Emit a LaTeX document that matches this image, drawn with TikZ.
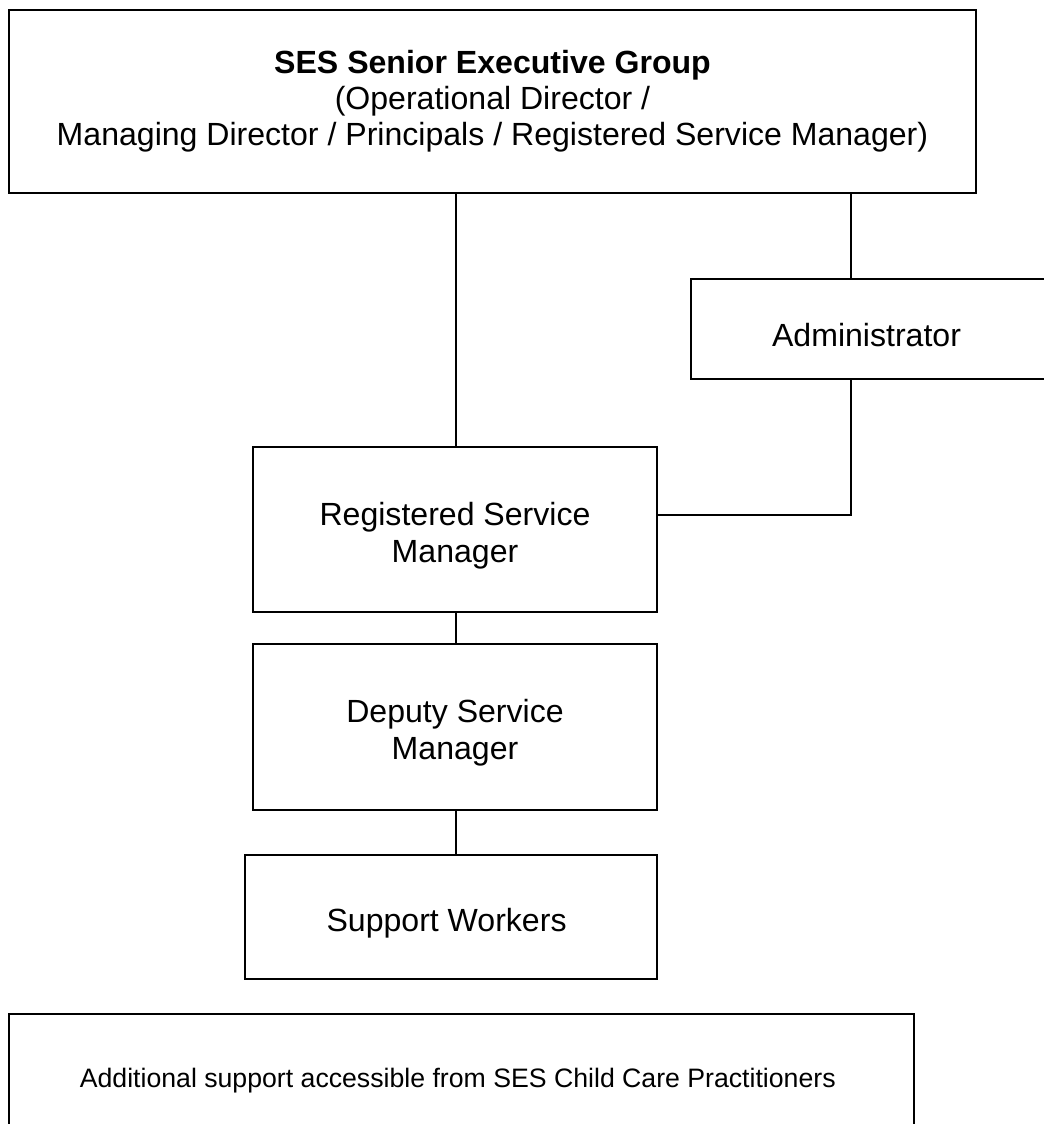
\documentclass[tikz,border=0pt]{standalone}
\usepackage{fontspec}
\setmainfont{Liberation Sans}
\usetikzlibrary{positioning,calc}
\tikzstyle{block} = [rectangle, draw, line width=1.3pt, fill=white,
  align=center, inner sep=0pt, font=\fontsize{24.05}{27}\selectfont]
\tikzstyle{line} = [draw, line width=1.3pt, color=black]
\tikzset{
  text drop/.style={execute at begin node={\rule{0pt}{#1}}}, % pushes text a bit down
}
\newcommand{\dropstrut}{\rule{0pt}{26.5pt}}

\begin{document}
\begin{tikzpicture}[x=0.75pt, y=-0.75pt]

  \useasboundingbox (0,0) rectangle (1043,1124);

  %%%%%%%%%%%%%%%%%%%%%%%%%%%%%%%%%%%%%%%%%%%%%%%%%%%%%%%%%%%%%%
  %                    SENIOR EXECUTIVE GROUP                  %
  %%%%%%%%%%%%%%%%%%%%%%%%%%%%%%%%%%%%%%%%%%%%%%%%%%%%%%%%%%%%%%

  \node [block, minimum width=725.25pt, minimum height=137.25pt] (exec-group) at (492.5,101.5) {
    \textbf{SES Senior Executive Group}\\
    (Operational Director /\\
    Managing Director / Principals / Registered Service Manager)
  };

  \node [block, text drop=26pt, minimum width=270pt, minimum height=75pt] (admin) at (871,329) {
    Administrator
  };

  %%%%%%%%%%%%%%%%%%%%%%%%%%%%%%%%%%%%%%%%%%%%%%%%%%%%%%%%%%%%%%
  %                    SERVICE STAFF                           %
  %%%%%%%%%%%%%%%%%%%%%%%%%%%%%%%%%%%%%%%%%%%%%%%%%%%%%%%%%%%%%%

  \node [block, minimum width=303pt, minimum height=123.75pt] (reg-manager) at (455,529.5) {
    \dropstrut Registered Service\\[0.6pt]
    Manager
  };
  \node [block, minimum width=303pt, minimum height=124.5pt] (deputy-manager) at (455,727) {
    \dropstrut Deputy Service\\[0.6pt]
    Manager
  };
  \node [block, text drop=26.5pt, minimum width=309pt, minimum height=93pt] (support-workers) at (451,917) {
    Support Workers
  };

  %%%%%%%%%%%%%%%%%%%%%%%%%%%%%%%%%%%%%%%%%%%%%%%%%%%%%%%%%%%%%%
  %                    ADDITIONAL SUPPORT                      %
  %%%%%%%%%%%%%%%%%%%%%%%%%%%%%%%%%%%%%%%%%%%%%%%%%%%%%%%%%%%%%%

  \node [block, text drop=19pt, minimum width=678.75pt, minimum height=96pt,
    font=\fontsize{20}{24}\selectfont] (additional-support) at (461.5,1078) {
    Additional support accessible from SES Child Care Practitioners
  };

  % connectors
  \coordinate (admin-join) at ([xshift=-15pt]admin.north);
  \draw[line] ([xshift=0.75pt]reg-manager.north) -- ([xshift=0.75pt]reg-manager.north |- exec-group.south);
  \draw[line] (admin-join) -- (admin-join |- exec-group.south);
  \draw[line] ([xshift=-15pt]admin.south) |- ([yshift=10.9pt]reg-manager.east);
  \draw[line] ([xshift=0.75pt]reg-manager.south) -- ([xshift=0.75pt]deputy-manager.north);
  \draw[line] ([xshift=0.75pt]deputy-manager.south) -- ([xshift=0.75pt]deputy-manager.south |- support-workers.north);

\end{tikzpicture}
\end{document}
